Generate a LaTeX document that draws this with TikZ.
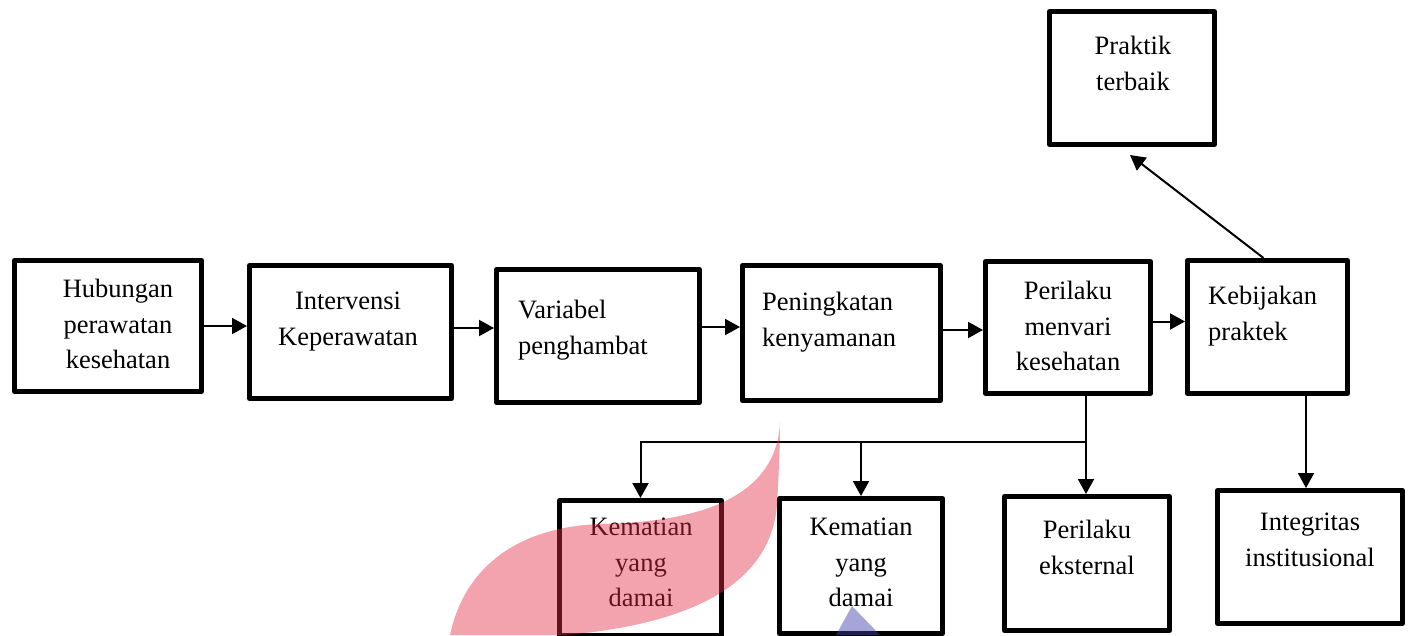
\documentclass[tikz,border=0pt]{standalone}
\usepackage{fontspec}
\setmainfont{Liberation Serif}
\usetikzlibrary{arrows.meta}
\tikzset{
  kotak/.style={draw, line width=5pt, line join=round, inner sep=0pt},
  teks/.style={inner sep=0pt, align=center, font=\fontsize{26.5}{35.5}\selectfont},
  panah/.style={line width=2pt, -{Triangle[length=15pt,width=16pt]}}
}
\begin{document}
\begin{tikzpicture}[x=1pt, y=-1pt]
\useasboundingbox (0,0) rectangle (1409,635);
\clip (0,0) rectangle (1409,635);
\node[kotak, minimum width=187pt, minimum height=131pt] (hub) at (108,326) {};
\node[kotak, minimum width=202pt, minimum height=133pt] (int) at (350.5,332) {};
\node[kotak, minimum width=203pt, minimum height=133pt] (var) at (598,336) {};
\node[kotak, minimum width=198pt, minimum height=135pt] (pen) at (841.5,333) {};
\node[kotak, minimum width=165pt, minimum height=132pt] (per) at (1068,327.5) {};
\node[kotak, minimum width=160pt, minimum height=133pt] (keb) at (1267.5,327) {};
\node[kotak, minimum width=165pt, minimum height=133pt] (pra) at (1132,78) {};
\node[kotak, minimum width=162pt, minimum height=135pt] (kem1) at (640.5,568) {};
\node[kotak, minimum width=163pt, minimum height=135pt] (kem2) at (861,566) {};
\node[kotak, minimum width=165pt, minimum height=134pt] (ext) at (1087,563.5) {};
\node[kotak, minimum width=185pt, minimum height=133pt] (ins) at (1310,557) {};
\node[teks, anchor=north] (hubT) at (118,279) {Hubungan\\perawatan\\kesehatan};
\node[teks, anchor=north] (intT) at (348,292) {Intervensi\\Keperawatan};
\node[teks, anchor=north west, align=left] (varT) at (518,300) {Variabel\\penghambat};
\node[teks, anchor=north west, align=left] (penT) at (762,292) {Peningkatan\\kenyamanan};
\node[teks, anchor=north] (perT) at (1068,281) {Perilaku\\menvari\\kesehatan};
\node[teks, anchor=north west, align=left] (kebT) at (1208,286) {Kebijakan\\praktek};
\node[teks, anchor=north] (praT) at (1133,36) {Praktik\\terbaik};
\node[teks, anchor=north] (kem1T) at (641,518) {Kematian\\yang\\damai};
\node[teks, anchor=north] (kem2T) at (861,518) {Kematian\\yang\\damai};
\node[teks, anchor=north] (extT) at (1087,520) {Perilaku\\eksternal};
\node[teks, anchor=north] (insT) at (1310,513) {Integritas\\institusional};
\draw[panah] (hub.east) -- (hub.east -| int.west);
\draw[panah] ([yshift=4pt]int.east) -- ([yshift=8pt]var.west);
\draw[panah] ([yshift=9pt]var.east) -- ([yshift=6pt]pen.west);
\draw[panah] ([yshift=3pt]pen.east) -- ([yshift=-2.5pt]per.west);
\draw[panah] ([yshift=6pt]per.east) -- ([yshift=5.5pt]keb.west);
\draw[panah] ([xshift=-4pt]keb.north) -- ([xshift=-2pt,yshift=-8pt]pra.south);
\draw[panah] ([xshift=18pt]per.south) -- ([xshift=-1pt]ext.north);
\coordinate (cabang) at (1086,442);
\draw[panah] (cabang) -| (kem1.north);
\draw[panah] (cabang -| kem2.north) -- (kem2.north);
\draw[panah] ([xshift=38.5pt]keb.south) -- ([xshift=-4pt]ins.north);
\definecolor{merahmuda}{RGB}{227,45,68}
\definecolor{biru}{RGB}{64,64,170}
\fill[merahmuda, opacity=0.44] (780,423) .. controls (776,495) and (705,522) .. (600,524) .. controls (520,527) and (465,565) .. (450,635) -- (565,635) .. controls (680,625) and (770,590) .. (777,505) .. controls (779,470) and (780,440) .. (780,423);
\fill[biru, opacity=0.47] (852,606) -- (880,635) -- (836,635) -- cycle;
\end{tikzpicture}
\end{document}
